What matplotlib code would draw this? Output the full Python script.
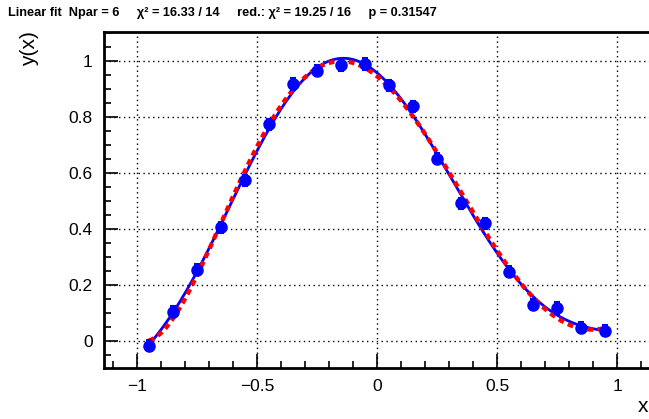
import numpy as np
import matplotlib
matplotlib.use("Agg")
import matplotlib.pyplot as plt
from matplotlib.ticker import MultipleLocator

plt.rcParams["font.family"] = ["Liberation Sans", "DejaVu Sans"]

# data
x = [-0.95, -0.85, -0.75, -0.65, -0.55, -0.45, -0.35, -0.25, -0.15, -0.05,
     0.05, 0.15, 0.25, 0.35, 0.45, 0.55, 0.65, 0.75, 0.85, 0.95]
y = [-0.015, 0.106, 0.256, 0.406, 0.574, 0.774, 0.917, 0.964, 0.985, 0.988,
     0.913, 0.837, 0.651, 0.492, 0.421, 0.248, 0.131, 0.119, 0.048, 0.038]
ey = [0.02] * 20

title = ("Linear fit  Npar = 6     \u03c7\u00b2 = 16.33 / 14     "
         "red.: \u03c7\u00b2 = 19.25 / 16     p = 0.31547")

x = np.array(x)
y = np.array(y)
ey = np.array(ey)

# fits of the points: blue and red curves
w = 1.0 / ey
c_full = np.polyfit(x, y, 7, w=w)
c_red = np.polyfit(x, y, 5, w=w)
xs = np.linspace(x.min(), x.max(), 300)

fig = plt.figure(figsize=(6.49, 4.19), dpi=100)
ax = fig.add_axes([0.160, 0.1217, 0.842, 0.802])

ax.plot(xs, np.polyval(c_full, xs), color="#0000ff", lw=2, zorder=3)
ax.plot(xs, np.polyval(c_red, xs), color="#ff0000", lw=3.2, ls=(0, (1.3, 1.0)), zorder=4)
ax.errorbar(x, y, yerr=ey, fmt="o", color="#0000ff", ms=8, capsize=2.5,
            elinewidth=1.5, capthick=1.5, zorder=5)

ax.set_xlim(-1.1375, 1.1375)
ax.set_ylim(-0.095, 1.1025)
ax.xaxis.set_minor_locator(MultipleLocator(0.1))
ax.yaxis.set_minor_locator(MultipleLocator(0.05))
ax.set_xticks([-1, -0.5, 0, 0.5, 1])
ax.set_xticklabels(["\u22121", "\u22120.5", "0", "0.5", "1"])
ax.set_yticks([0, 0.2, 0.4, 0.6, 0.8, 1])
ax.set_yticklabels(["0", "0.2", "0.4", "0.6", "0.8", "1"])
ax.tick_params(which="both", direction="in", top=False, right=False,
               labelsize=12.5, width=1.2)
ax.tick_params(which="major", length=10, pad=8)
ax.tick_params(which="minor", length=5)
ax.grid(True, which="major", ls=(0, (1, 2.5)), color="black", lw=1)

for s in ["left", "bottom", "top"]:
    ax.spines[s].set_linewidth(2)
ax.spines["right"].set_visible(False)

fig.text(0.012, 0.968, title, fontsize=9.2, fontweight="bold", ha="left", va="center")
fig.text(0.045, 0.925, "y(x)", fontsize=15, rotation=90, ha="center", va="top")
fig.text(0.982, 0.006, "x", fontsize=15, ha="left", va="bottom")

fig.savefig("out.png", dpi=100)
